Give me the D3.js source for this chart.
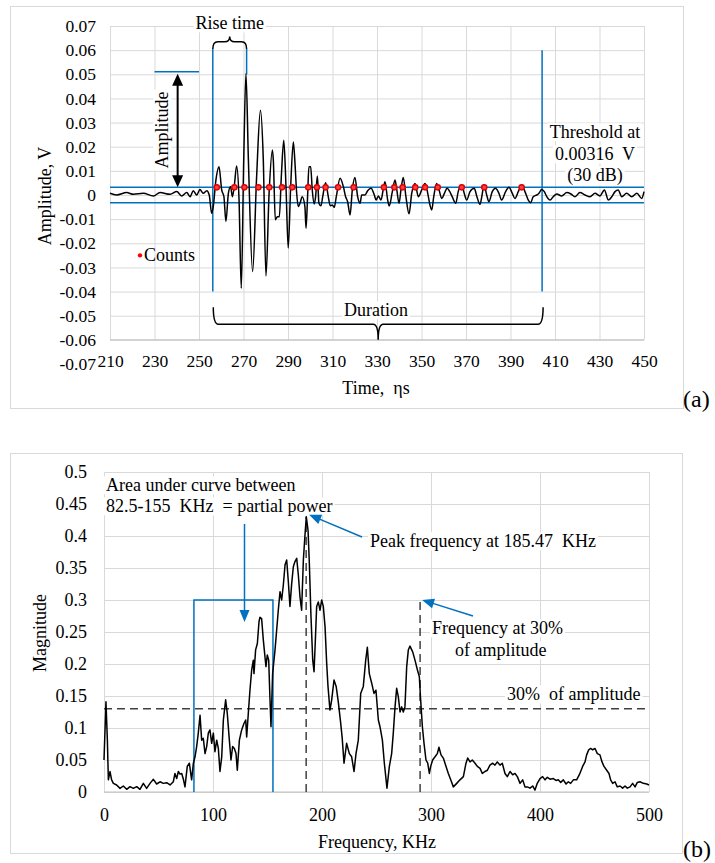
<!DOCTYPE html>
<html>
<head>
<meta charset="utf-8">
<script src="https://cdn.jsdelivr.net/npm/d3@7"></script>
<style>
  body { margin: 0; background: #fff; }
  svg text { font-family: "Liberation Serif", "Times New Roman", serif; fill: #000; white-space: pre; }
</style>
</head>
<body>
<svg id="chart" width="715" height="863"></svg>
<script>
// ---- (a) AE waveform ----
var waveTime = [210.0, 213.0, 217.5, 220.5, 225.0, 229.5, 232.5, 237.0, 240.0, 242.2, 244.5, 246.0, 247.4, 249.0, 250.4,
  251.9, 253.5, 254.6, 255.7, 256.4, 257.6, 259.0, 260.2, 261.2, 262.1, 263.2, 264.2, 265.0, 265.9, 266.9, 268.0,
  269.0, 270.1, 271.1, 272.2, 274.1, 275.9, 277.6, 278.9, 280.1, 281.5, 283.0, 283.4, 284.3, 285.2, 286.1, 287.0,
  288.1, 289.1, 290.1, 291.2, 292.4, 293.1, 293.9, 294.6, 295.4, 296.4, 297.6, 298.1, 298.8, 299.4, 300.2, 300.9,
  301.8, 302.4, 303.2, 303.9, 304.8, 305.6, 306.9, 308.1, 309.0, 309.9, 310.8, 311.7, 313.4, 314.9, 315.9, 316.8,
  317.9, 318.9, 320.1, 321.3, 322.4, 323.1, 324.6, 325.8, 327.3, 328.8, 329.6, 330.6, 331.8, 332.8, 333.6, 334.8,
  335.5, 336.9, 338.1, 338.9, 339.9, 340.8, 341.8, 343.0, 344.4, 345.6, 347.1, 348.6, 350.1, 351.6, 352.8, 353.8,
  354.6, 355.5, 356.8, 357.9, 359.1, 360.3, 361.5, 362.7, 363.8, 365.4, 366.5, 368.1, 369.2, 370.3, 371.8, 373.7,
  374.9, 376.3, 377.1, 378.1, 379.3, 380.3, 381.8, 383.3, 384.8, 386.0, 387.8, 389.3, 390.8, 392.0, 393.5, 395.0,
  396.5, 398.0, 399.1, 400.2, 401.8, 402.8, 404.0, 405.2, 406.3, 407.8, 409.2, 410.8, 413.0, 415.3, 417.2, 419.0,
  421.2, 423.5, 425.7, 428.0, 430.2, 432.2, 434.0, 435.5, 437.0, 438.4, 440.0, 442.2, 444.5, 446.8, 449.0, 450.0];
var waveAmp = [0.0007, 0, 0.001, 0.0003, 0.0007, -0.0004, 0.001, 0.0003, 0.0014, -0.0004, 0.001, -0.0007, 0.0018, 0, 0.0023,
  0.0007, 0.0018, 0, -0.0076, -0.0048, 0.0062, 0.0117, 0.0021, -0.0007, -0.011, 0.0007, 0.0034, -0.0007, 0.0041, 0.012, -0.0021,
  -0.0386, 0.0145, 0.0503, 0.0145, -0.0317, 0.0076, 0.0351, 0.0145, -0.0335, 0.0007, 0.0186, 0.0145, -0.0103, -0.009, -0.009, 0.0076,
  0.0227, 0.0034, -0.022, 0.0034, 0.022, 0.0138, 0.0007, -0.0048, -0.0034, -0.0007, -0.0048, -0.0138, -0.0007, 0.0117, 0.0117, 0.0021,
  -0.0037, -0.0007, 0.0079, -0.0034, -0.0045, -0.0007, 0.0051, -0.0007, -0.0045, -0.0041, -0.0051, -0.0007, 0.0069, 0.0034, -0.0007, -0.0028,
  -0.0083, 0.0021, 0.0073, -0.0007, -0.0034, 0, 0, 0.0018, 0.0028, 0, -0.0021, -0.0004, -0.0021, 0.0023, 0.0055, -0.0021,
  -0.0045, 0.0014, 0.0062, 0.0021, -0.0034, 0.0023, 0.0073, -0.0007, -0.0078, 0.0007, 0.0048, -0.0007, 0.0021, 0.0048, 0.0007, -0.0041,
  -0.0062, -0.0007, 0.0048, 0.0021, -0.0014, 0.0007, 0.0028, 0.0014, -0.0007, -0.0034, 0.0014, 0.0041, 0.0007, -0.0021, 0.0014, 0.0028,
  -0.0007, -0.0039, -0.0007, 0.0041, 0, -0.0028, 0.0014, 0.0028, 0.0007, -0.0021, 0.0014, 0.0032, 0.0007, -0.0014, 0.0014, 0.0041,
  0.0014, -0.0021, -0.0032, -0.0007, 0, 0.0007, 0.0023, 0.0014, -0.0007, -0.0021, -0.0007, 0.0004, -0.0004, 0.001, 0.0004, -0.0007,
  0.001, 0, -0.0007, 0.0007, -0.0004, 0.0021, -0.0021, -0.0007, 0.0014, 0.0021, -0.0007, 0.0007, -0.0007, 0.0007, -0.0014, 0.0014];
var countTime = [258.0, 265.9, 270.4, 276.7, 281.6, 287.3, 291.9, 299.1, 303.0, 306.9, 312.5, 319.5, 333.1,
  337.8, 341.5, 347.2, 351.6, 357.3, 368.1, 378.2, 395.0];
var threshold = 0.00316;
var timeTicks = [210, 230, 250, 270, 290, 310, 330, 350, 370, 390, 410, 430, 450];
var ampTicks = [-0.07, -0.06, -0.05, -0.04, -0.03, -0.02, -0.01, 0, 0.01, 0.02, 0.03, 0.04, 0.05, 0.06, 0.07];
var riseStart = 256.2, riseEnd = 271.4, durationEnd = 404.2, peakAmp = 0.051;

// ---- (b) FFT magnitude spectrum ----
var specFreq = [0, 1.8, 3.1, 4.0, 5.5, 7.0, 8.6, 11.6, 14.7, 17.7, 20.8, 23.9, 26.9, 30.0, 33.0, 36.1, 39.1, 42.2, 45.3, 48.3,
  51.4, 54.4, 57.5, 60.6, 63.6, 65.1, 66.7, 68.2, 69.7, 71.3, 72.8, 74.3, 76.4, 78.3, 80.4, 82.0, 83.5, 85.0, 86.5, 88.1,
  89.6, 91.1, 92.7, 94.2, 95.7, 97.2, 98.8, 100.3, 101.8, 103.4, 104.9, 106.4, 108.0, 109.5, 111.6, 113.1, 115.0, 116.5, 118.0, 119.6,
  121.1, 122.3, 124.2, 126.3, 128.4, 130.0, 130.9, 132.4, 133.9, 135.5, 137.0, 137.6, 139.1, 140.7, 142.2, 143.1, 144.6, 146.2, 147.7, 148.6,
  149.8, 151.1, 152.3, 153.2, 154.7, 156.9, 158.4, 159.9, 161.5, 163.0, 164.5, 166.1, 167.6, 169.1, 170.6, 172.2, 173.7, 175.2, 176.8, 178.3,
  179.8, 181.3, 182.9, 184.4, 185.6, 187.2, 188.4, 189.9, 191.5, 192.7, 193.9, 195.1, 196.6, 198.2, 199.7, 201.2, 202.8, 204.3, 205.5, 207.3,
  208.9, 211.0, 213.0, 215.0, 217.0, 218.5, 220.2, 222.6, 225.1, 227.2, 229.4, 231.2, 233.3, 235.5, 237.9, 240.1, 241.6, 243.4, 245.6, 247.7,
  249.5, 251.7, 253.2, 255.4, 257.2, 259.6, 261.8, 263.9, 265.4, 267.0, 268.5, 270.0, 271.6, 273.1, 274.6, 276.1, 277.7, 279.2, 280.7, 283.2,
  285.3, 287.5, 289.3, 290.5, 292.1, 293.6, 295.4, 297.0, 298.5, 299.7, 301.5, 303.7, 305.8, 307.3, 309.2, 311.3, 313.8, 315.9, 318.1, 320.5,
  323.6, 326.6, 329.7, 332.1, 333.7, 335.8, 337.9, 340.4, 342.5, 345.0, 347.1, 349.5, 351.7, 354.1, 356.6, 358.7, 360.8, 363.3, 365.4, 367.9,
  370.0, 372.5, 374.9, 377.1, 379.2, 381.7, 384.1, 386.2, 388.4, 390.8, 393.3, 395.4, 397.5, 400.0, 402.4, 404.6, 406.7, 409.2, 412.2, 414.7,
  416.8, 419.0, 421.4, 423.9, 426.0, 428.1, 430.6, 433.6, 436.1, 437.3, 439.1, 441.3, 442.8, 444.7, 446.5, 448.3, 450.5, 452.6, 455.0, 456.9,
  458.7, 461.2, 463.3, 464.8, 466.7, 468.8, 470.9, 473.4, 475.8, 478.0, 480.1, 482.6, 485.0, 487.2, 489.3, 491.7, 494.8, 497.9, 500.0];
var specMag = [0.05, 0.141, 0.081, 0.019, 0.032, 0.019, 0.0135, 0.011, 0.0057, 0.0094, 0.0042, 0.0083, 0.0057, 0.0083, 0.0042, 0.0135, 0.0057, 0.0135, 0.0198, 0.0125,
  0.016, 0.0135, 0.0146, 0.011, 0.016, 0.029, 0.021, 0.032, 0.028, 0.029, 0.02, 0.008, 0.04, 0.045, 0.019, 0.045, 0.055, 0.071, 0.092, 0.12,
  0.081, 0.084, 0.06, 0.071, 0.092, 0.097, 0.076, 0.092, 0.063, 0.081, 0.068, 0.032, 0.055, 0.1125, 0.144, 0.123, 0.081, 0.05, 0.071, 0.068,
  0.06, 0.034, 0.081, 0.097, 0.107, 0.1125, 0.086, 0.123, 0.159, 0.191, 0.206, 0.185, 0.222, 0.232, 0.266, 0.273, 0.271, 0.237, 0.211, 0.196,
  0.214, 0.206, 0.144, 0.102, 0.185, 0.222, 0.253, 0.284, 0.313, 0.300, 0.323, 0.355, 0.3625, 0.329, 0.29, 0.326, 0.352, 0.36, 0.365, 0.339,
  0.305, 0.284, 0.3625, 0.402, 0.43, 0.409, 0.357, 0.274, 0.206, 0.188, 0.237, 0.29, 0.297, 0.284, 0.3, 0.29, 0.258, 0.201, 0.165, 0.128,
  0.144, 0.175, 0.165, 0.14, 0.11, 0.085, 0.045, 0.076, 0.06, 0.055, 0.032, 0.06, 0.081, 0.154, 0.165, 0.206, 0.226, 0.185, 0.17, 0.154,
  0.159, 0.1125, 0.102, 0.081, 0.045, 0.006, 0.04, 0.06, 0.092, 0.133, 0.162, 0.149, 0.125, 0.133, 0.125, 0.133, 0.196, 0.222, 0.228, 0.219,
  0.206, 0.191, 0.18, 0.144, 0.102, 0.076, 0.05, 0.045, 0.029, 0.04, 0.05, 0.055, 0.06, 0.07, 0.058, 0.053, 0.04, 0.029, 0.019, 0.008,
  0.0135, 0.019, 0.024, 0.045, 0.053, 0.047, 0.05, 0.045, 0.04, 0.037, 0.029, 0.032, 0.034, 0.042, 0.045, 0.042, 0.047, 0.042, 0.045, 0.029,
  0.024, 0.032, 0.027, 0.029, 0.024, 0.0135, 0.019, 0.008, 0.008, 0.006, 0.0094, 0.003, 0.0135, 0.021, 0.024, 0.019, 0.023, 0.02, 0.021, 0.018,
  0.019, 0.015, 0.019, 0.0125, 0.016, 0.0135, 0.019, 0.019, 0.027, 0.032, 0.04, 0.047, 0.058, 0.066, 0.068, 0.066, 0.068, 0.06, 0.058, 0.047,
  0.04, 0.034, 0.029, 0.019, 0.0135, 0.016, 0.008, 0.0094, 0.006, 0.0094, 0.006, 0.008, 0.0135, 0.008, 0.015, 0.016, 0.0135, 0.0125, 0.011];
var freqTicks = [0, 100, 200, 300, 400, 500];
var magTicks = [0, 0.05, 0.1, 0.15, 0.2, 0.25, 0.3, 0.35, 0.4, 0.45, 0.5];
var bandLow = 82.5, bandHigh = 155, bandTop = 0.3;
var peakFreq = 185.47, peakMag = 0.43;
var freq30 = 290, level30 = 0.13;

var BLUE = "#0070c0", GRID = "#d9d9d9", AXIS = "#bfbfbf", DASH = "#404040";

var svg = d3.select("#chart");
svg.append("rect").attr("width", 715).attr("height", 863).attr("fill", "#fff");

// Outer chart frames
svg.append("rect").attr("x", 10.5).attr("y", 6.5).attr("width", 673).attr("height", 402)
   .attr("fill", "none").attr("stroke", GRID);
svg.append("rect").attr("x", 10.5).attr("y", 453.5).attr("width", 672).attr("height", 400)
   .attr("fill", "none").attr("stroke", GRID);

// text with optional white box behind it (as in the Word/Excel text boxes)
function label(g, str, x, y, opts) {
    opts = opts || {};
    var grp = g.append("g")
        .attr("transform", "translate(" + x + "," + y + ")" + (opts.rotate ? " rotate(" + opts.rotate + ")" : ""));
    var t = grp.append("text")
        .attr("text-anchor", opts.anchor || "middle")
        .attr("dy", opts.dy || "0.35em")
        .style("font-size", (opts.size || 18) + "px")
        .text(str);
    if (opts.box) {
        var b = t.node().getBBox();
        grp.insert("rect", "text").attr("x", b.x - 2).attr("y", b.y + 1)
           .attr("width", b.width + 4).attr("height", b.height - 2).attr("fill", "#fff");
    }
    return t;
}

function arrowHead(g, x, y, fromX, fromY, color, len, half) {
    var a = Math.atan2(y - fromY, x - fromX), c = Math.cos(a), s = Math.sin(a);
    var p1 = [x - len * c + half * s, y - len * s - half * c];
    var p2 = [x - len * c - half * s, y - len * s + half * c];
    g.append("path").attr("d", "M" + x + "," + y + "L" + p1 + "L" + p2 + "Z").attr("fill", color);
}

function arrow(g, x1, y1, x2, y2, color) {
    var a = Math.atan2(y2 - y1, x2 - x1);
    g.append("line").attr("x1", x1).attr("y1", y1)
     .attr("x2", x2 - 8 * Math.cos(a)).attr("y2", y2 - 8 * Math.sin(a))
     .attr("stroke", color).attr("stroke-width", 1.5);
    arrowHead(g, x2, y2, x1, y1, color, 12, 5);
}

// curly brace between x1 and x2, arms at yEnd, bar at yBar, notch pointing to yTip
function brace(g, x1, x2, yEnd, yBar, yTip) {
    var xm = (x1 + x2) / 2, r = 5;
    var d = "M" + x1 + "," + yEnd + " Q" + x1 + "," + yBar + " " + (x1 + r) + "," + yBar
          + " L" + (xm - r) + "," + yBar + " Q" + xm + "," + yBar + " " + xm + "," + yTip
          + " Q" + xm + "," + yBar + " " + (xm + r) + "," + yBar
          + " L" + (x2 - r) + "," + yBar + " Q" + x2 + "," + yBar + " " + x2 + "," + yEnd;
    g.append("path").attr("d", d).attr("fill", "none").attr("stroke", "#000").attr("stroke-width", 1.5);
}

function styleAxis(g, size) {
    g.select(".domain").remove();
    g.selectAll("text").style("font-size", size + "px").attr("fill", "#000");
}

// ============================ (a) waveform ============================
var xA = d3.scaleLinear().domain([210, 450]).range([110, 644]);
var yA = d3.scaleLinear().domain([-0.07, 0.07]).range([364, 26]);
var gA = svg.append("g");

gA.append("g").attr("transform", "translate(" + xA(210) + ",0)")
  .call(d3.axisLeft(yA).tickValues(ampTicks.filter(function(v) { return v > -0.065; }))
        .tickSize(-(xA(450) - xA(210))).tickFormat(""))
  .call(function(g) { g.select(".domain").remove(); g.selectAll("line").attr("stroke", GRID); });
gA.append("g").attr("transform", "translate(0," + yA(0.07) + ")")
  .call(d3.axisBottom(xA).tickValues(timeTicks).tickSize(yA(-0.06) - yA(0.07)).tickFormat(""))
  .call(function(g) { g.select(".domain").remove(); g.selectAll("line").attr("stroke", GRID); });
gA.append("line").attr("x1", xA(210)).attr("x2", xA(450)).attr("y1", yA(-0.06)).attr("y2", yA(-0.06))
  .attr("stroke", AXIS);

gA.append("g").attr("transform", "translate(" + xA(210) + ",0)")
  .call(d3.axisLeft(yA).tickValues(ampTicks).tickSize(0).tickPadding(14)
        .tickFormat(function(d) { return d === 0 ? "0" : d.toFixed(2); }))
  .call(function(g) { styleAxis(g, 17.5); });
gA.append("g").attr("transform", "translate(0," + yA(-0.06) + ")")
  .call(d3.axisBottom(xA).tickValues(timeTicks).tickSize(0).tickPadding(15))
  .call(function(g) { styleAxis(g, 17.5); });

label(gA, "Amplitude, V", 45, 196, { rotate: -90 });
label(gA, "Time,  \u03b7s", 376, 388);
label(svg, "(a)", 683, 407, { anchor: "start", size: 24, dy: "0" });

// annotation text boxes
label(gA, "Rise time", (xA(riseStart) + xA(riseEnd)) / 2, 23, { box: true });
label(gA, "Amplitude", 162, 130, { rotate: -90, box: true });
label(gA, "Threshold at", 595, 132, { box: true });
label(gA, "0.00316  V", 595, 154, { box: true });
label(gA, "(30 dB)", 595, 175, { box: true });
label(gA, "Duration", 376, 310, { box: true });

// threshold lines
[threshold, -threshold].forEach(function(v) {
    gA.append("line").attr("x1", xA(210)).attr("x2", xA(450)).attr("y1", yA(v)).attr("y2", yA(v))
      .attr("stroke", BLUE).attr("stroke-width", 1.5);
});

// rise time / duration markers
gA.append("line").attr("x1", xA(riseStart)).attr("x2", xA(riseStart))
  .attr("y1", yA(0.0605)).attr("y2", yA(-0.04)).attr("stroke", BLUE).attr("stroke-width", 1.5);
gA.append("line").attr("x1", xA(riseEnd)).attr("x2", xA(riseEnd))
  .attr("y1", yA(0.0605)).attr("y2", yA(0.05)).attr("stroke", BLUE).attr("stroke-width", 1.5);
gA.append("line").attr("x1", xA(durationEnd)).attr("x2", xA(durationEnd))
  .attr("y1", yA(0.06)).attr("y2", yA(-0.04)).attr("stroke", BLUE).attr("stroke-width", 1.5);
gA.append("line").attr("x1", xA(230)).attr("x2", xA(250)).attr("y1", yA(peakAmp)).attr("y2", yA(peakAmp))
  .attr("stroke", BLUE).attr("stroke-width", 1.5);

// waveform
var waveLine = d3.line()
    .x(function(d, i) { return xA(waveTime[i]); })
    .y(function(d) { return yA(d); })
    .curve(d3.curveMonotoneX);
gA.append("path").datum(waveAmp).attr("d", waveLine)
  .attr("fill", "none").attr("stroke", "#000").attr("stroke-width", 1.5);

// amplitude double arrow
var ax = xA(240.4);
gA.append("line").attr("x1", ax).attr("x2", ax).attr("y1", yA(peakAmp) + 8).attr("y2", yA(threshold) - 8)
  .attr("stroke", "#000").attr("stroke-width", 2);
arrowHead(gA, ax, yA(peakAmp) + 2, ax, yA(0), "#000", 12, 5.5);
arrowHead(gA, ax, yA(threshold), ax, yA(peakAmp), "#000", 12, 5.5);

// braces
brace(gA, xA(riseStart), xA(riseEnd), yA(0.0605), yA(0.0635), yA(0.0657));
brace(gA, xA(riseStart) + 0.5, xA(durationEnd) + 1, yA(-0.0465), yA(-0.0535), yA(-0.06));

// counts
gA.selectAll(".count").data(countTime).enter().append("circle")
  .attr("class", "count")
  .attr("cx", function(d) { return xA(d); })
  .attr("cy", yA(threshold))
  .attr("r", 2.6)
  .attr("fill", "#ff4040").attr("stroke", "#e00000").attr("stroke-width", 1.4);
gA.append("circle").attr("cx", 140).attr("cy", yA(-0.025)).attr("r", 2.2).attr("fill", "#ff0000");
label(gA, "Counts", 144, yA(-0.025) - 1, { anchor: "start" });

// ============================ (b) spectrum ============================
var xB = d3.scaleLinear().domain([0, 500]).range([104, 649]);
var yB = d3.scaleLinear().domain([0, 0.5]).range([792, 472]);
var gB = svg.append("g");

gB.append("g").attr("transform", "translate(" + xB(0) + ",0)")
  .call(d3.axisLeft(yB).tickValues(magTicks).tickSize(-(xB(500) - xB(0))).tickFormat(""))
  .call(function(g) { g.select(".domain").remove(); g.selectAll("line").attr("stroke", GRID); });
gB.append("g").attr("transform", "translate(0," + yB(0.5) + ")")
  .call(d3.axisBottom(xB).tickValues(freqTicks).tickSize(yB(0) - yB(0.5)).tickFormat(""))
  .call(function(g) { g.select(".domain").remove(); g.selectAll("line").attr("stroke", GRID); });
gB.append("line").attr("x1", xB(0)).attr("x2", xB(500)).attr("y1", yB(0)).attr("y2", yB(0))
  .attr("stroke", AXIS);

gB.append("g").attr("transform", "translate(" + xB(0) + ",0)")
  .call(d3.axisLeft(yB).tickValues(magTicks).tickSize(0).tickPadding(17)
        .tickFormat(function(d) { return String(+d.toFixed(2)); }))
  .call(function(g) { styleAxis(g, 18); });
gB.append("g").attr("transform", "translate(0," + yB(0) + ")")
  .call(d3.axisBottom(xB).tickValues(freqTicks).tickSize(0).tickPadding(16))
  .call(function(g) { styleAxis(g, 18); });

label(gB, "Magnitude", 40, 633, { rotate: -90 });
label(gB, "Frequency, KHz", 377, 842);
label(svg, "(b)", 683, 857, { anchor: "start", size: 24, dy: "0" });

label(gB, "Area under curve between", 106, 485, { anchor: "start", box: true });
label(gB, "82.5-155  KHz  = partial power", 106, 506, { anchor: "start", box: true });
label(gB, "Peak frequency at 185.47  KHz", 370, 541, { anchor: "start", box: true });
label(gB, "Frequency at 30%", 432, 628, { anchor: "start", box: true });
label(gB, "of amplitude", 455, 650, { anchor: "start", box: true });
label(gB, "30%  of amplitude", 507, 694, { anchor: "start", box: true });

// partial power band
gB.append("path")
  .attr("d", "M" + xB(bandLow) + "," + yB(0) + "V" + yB(bandTop) + "H" + xB(bandHigh) + "V" + yB(0))
  .attr("fill", "none").attr("stroke", BLUE).attr("stroke-width", 1.5);

// dashed guides
gB.append("line").attr("x1", xB(0)).attr("x2", xB(500)).attr("y1", yB(level30)).attr("y2", yB(level30))
  .attr("stroke", DASH).attr("stroke-width", 1.5).attr("stroke-dasharray", "8,5");
gB.append("line").attr("x1", xB(peakFreq)).attr("x2", xB(peakFreq)).attr("y1", yB(0)).attr("y2", yB(peakMag))
  .attr("stroke", DASH).attr("stroke-width", 1.5).attr("stroke-dasharray", "8,5");
gB.append("line").attr("x1", xB(freq30)).attr("x2", xB(freq30)).attr("y1", yB(0)).attr("y2", yB(bandTop))
  .attr("stroke", DASH).attr("stroke-width", 1.5).attr("stroke-dasharray", "8,5");

// spectrum
var specLine = d3.line()
    .x(function(d, i) { return xB(specFreq[i]); })
    .y(function(d) { return yB(d); });
gB.append("path").datum(specMag).attr("d", specLine)
  .attr("fill", "none").attr("stroke", "#000").attr("stroke-width", 1.5).attr("stroke-linejoin", "round");

// blue callout arrows
arrow(gB, 244.5, 524, 244.5, 622, BLUE);
arrow(gB, 362, 537, xB(peakFreq) + 3, yB(peakMag) - 2, BLUE);
arrow(gB, 473, 616, xB(freq30) + 2, yB(bandTop), BLUE);
</script>
</body>
</html>
